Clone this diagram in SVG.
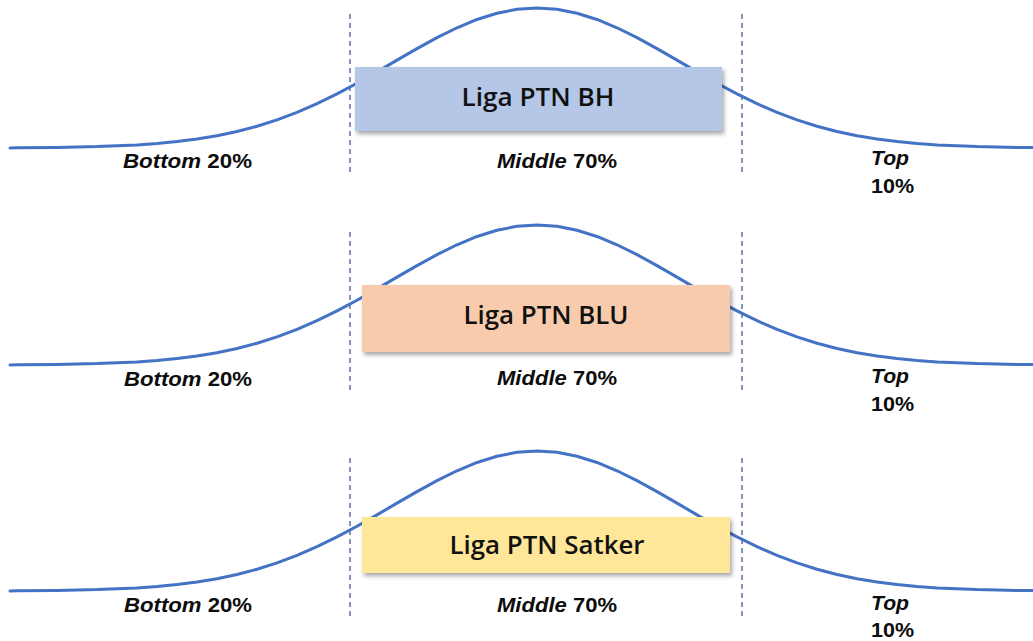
<svg xmlns="http://www.w3.org/2000/svg" xmlns:xlink="http://www.w3.org/1999/xlink" width="1033" height="641" viewBox="0 0 1033 641">
<style>
.curve{fill:none;stroke:#4472C4;stroke-width:3;stroke-linejoin:round;stroke-linecap:round}
.dash{stroke:#5B6FA3;stroke-width:1.5;stroke-dasharray:5 4}
.box{filter:url(#sh)}
.blabel{font-family:"Open Sans","Noto Sans",sans-serif;font-size:26px;font-weight:600;fill:#111;text-anchor:middle}
.lbl{font-family:"Liberation Sans",Arial,sans-serif;font-size:21px;font-weight:bold;fill:#0d0d0d}
.it{font-style:italic}
</style>
<defs>
<filter id="sh" x="-5%" y="-20%" width="115%" height="150%">
<feDropShadow dx="2" dy="3" stdDeviation="2" flood-color="#000" flood-opacity="0.35"/>
</filter>
<path id="curve" class="curve" d="M10,0 L17,-0.22 L57,-0.59 L97,-1.4 L137,-3.12 L157,-4.52 L177,-6.43 L197,-8.96 L217,-12.26 L237,-16.46 L257,-21.7 L277,-28.06 L297,-35.59 L317,-44.28 L337,-54.08 L357,-64.79 L377,-76.16 L397,-87.85 L417,-99.41 L437,-110.36 L457,-120.23 L477,-128.52 L497,-134.78 L517,-138.67 L537,-140 L557,-138.67 L577,-134.78 L597,-128.52 L617,-120.23 L637,-110.36 L657,-99.41 L677,-87.85 L697,-76.16 L717,-64.79 L737,-54.08 L757,-44.28 L777,-35.59 L797,-28.06 L817,-21.7 L837,-16.46 L857,-12.26 L877,-8.96 L897,-6.43 L917,-4.52 L937,-3.12 L977,-1.4 L1017,-0.59 L1033,-0.4"/>
</defs>

<g id="connectors">
<line class="dash" x1="350" y1="14" x2="350" y2="176"/>
<line class="dash" x1="742" y1="14" x2="742" y2="176"/>
<line class="dash" x1="350" y1="232" x2="350" y2="392"/>
<line class="dash" x1="742" y1="232" x2="742" y2="392"/>
<line class="dash" x1="350" y1="458" x2="350" y2="618"/>
<line class="dash" x1="742" y1="458" x2="742" y2="618"/>
<use xlink:href="#curve" href="#curve" transform="translate(0,148)"/>
<use xlink:href="#curve" href="#curve" transform="translate(0,365)"/>
<use xlink:href="#curve" href="#curve" transform="translate(0,591)"/>
</g>

<g id="node-bh">
<rect class="box" x="355" y="67" width="367" height="64" fill="#B4C7E7"/>
<text class="blabel" x="538" y="106" textLength="153" lengthAdjust="spacingAndGlyphs">Liga PTN BH</text>
</g>
<g id="node-blu">
<rect class="box" x="362" y="285" width="368" height="67" fill="#F8CBAD"/>
<text class="blabel" x="546" y="324" textLength="165" lengthAdjust="spacingAndGlyphs">Liga PTN BLU</text>
</g>
<g id="node-satker">
<rect class="box" x="362" y="517" width="368" height="56" fill="#FFE699"/>
<text class="blabel" x="547" y="554" textLength="195" lengthAdjust="spacingAndGlyphs">Liga PTN Satker</text>
</g>

<g id="labels-1">
<text class="lbl" x="123" y="168" textLength="129" lengthAdjust="spacingAndGlyphs"><tspan class="it">Bottom</tspan> 20%</text>
<text class="lbl" x="497" y="168" textLength="120" lengthAdjust="spacingAndGlyphs"><tspan class="it">Middle</tspan> 70%</text>
<text class="lbl it" x="871" y="165" textLength="38" lengthAdjust="spacingAndGlyphs">Top</text>
<text class="lbl" x="871" y="193" textLength="43" lengthAdjust="spacingAndGlyphs">10%</text>
</g>
<g id="labels-2">
<text class="lbl" x="124" y="386" textLength="128" lengthAdjust="spacingAndGlyphs"><tspan class="it">Bottom</tspan> 20%</text>
<text class="lbl" x="497" y="385" textLength="120" lengthAdjust="spacingAndGlyphs"><tspan class="it">Middle</tspan> 70%</text>
<text class="lbl it" x="871" y="383" textLength="38" lengthAdjust="spacingAndGlyphs">Top</text>
<text class="lbl" x="871" y="411" textLength="43" lengthAdjust="spacingAndGlyphs">10%</text>
</g>
<g id="labels-3">
<text class="lbl" x="124" y="612" textLength="128" lengthAdjust="spacingAndGlyphs"><tspan class="it">Bottom</tspan> 20%</text>
<text class="lbl" x="497" y="612" textLength="120" lengthAdjust="spacingAndGlyphs"><tspan class="it">Middle</tspan> 70%</text>
<text class="lbl it" x="871" y="610" textLength="38" lengthAdjust="spacingAndGlyphs">Top</text>
<text class="lbl" x="871" y="637" textLength="43" lengthAdjust="spacingAndGlyphs">10%</text>
</g>
</svg>
